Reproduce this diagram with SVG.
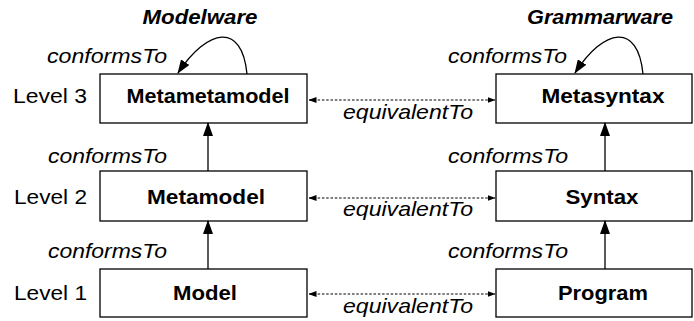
<svg xmlns="http://www.w3.org/2000/svg" width="694" height="321" viewBox="0 0 694 321">
  <style>
    text { font-family: "Liberation Sans", Arial, sans-serif; font-size: 21px; fill: #000; }
    .node { font-weight: bold; text-anchor: middle; }
    .head { font-weight: bold; font-style: italic; text-anchor: middle; }
    .rel { font-style: italic; }
    .box { fill: #fff; stroke: #000; stroke-width: 1.3; }
    .solid { fill: none; stroke: #000; stroke-width: 1.3; }
    .dash { fill: none; stroke: #000; stroke-width: 1; stroke-dasharray: 2.5 1.8; }
  </style>
  <defs>
    <marker id="tri" viewBox="0 0 14 10" refX="13" refY="5" markerWidth="14" markerHeight="10" markerUnits="userSpaceOnUse" orient="auto">
      <path d="M0,0 L14,5 L0,10 z" fill="#000"/>
    </marker>
    <marker id="small" viewBox="0 0 8 6" refX="7.5" refY="3" markerWidth="8" markerHeight="6" markerUnits="userSpaceOnUse" orient="auto-start-reverse">
      <path d="M0,0 L8,3 L0,6 z" fill="#000"/>
    </marker>
  </defs>

  <!-- column headings -->
  <text class="head" x="200" y="24" textLength="115" lengthAdjust="spacingAndGlyphs">Modelware</text>
  <text class="head" x="600" y="24" textLength="146" lengthAdjust="spacingAndGlyphs">Grammarware</text>

  <!-- level labels -->
  <text x="13" y="103" textLength="74" lengthAdjust="spacingAndGlyphs">Level 3</text>
  <text x="14" y="204" textLength="73" lengthAdjust="spacingAndGlyphs">Level 2</text>
  <text x="14" y="300" textLength="73" lengthAdjust="spacingAndGlyphs">Level 1</text>

  <!-- modelware column -->
  <g id="metametamodel">
    <rect class="box" x="100" y="74" width="207" height="49"/>
    <text class="node" x="208" y="103" textLength="163" lengthAdjust="spacingAndGlyphs">Metametamodel</text>
  </g>
  <g id="metamodel">
    <rect class="box" x="100" y="171" width="207" height="50"/>
    <text class="node" x="206" y="204" textLength="118" lengthAdjust="spacingAndGlyphs">Metamodel</text>
  </g>
  <g id="model">
    <rect class="box" x="100" y="269" width="207" height="48"/>
    <text class="node" x="205" y="300" textLength="64" lengthAdjust="spacingAndGlyphs">Model</text>
  </g>

  <!-- grammarware column -->
  <g id="metasyntax">
    <rect class="box" x="496" y="74" width="196" height="49"/>
    <text class="node" x="603" y="103" textLength="123" lengthAdjust="spacingAndGlyphs">Metasyntax</text>
  </g>
  <g id="syntax">
    <rect class="box" x="496" y="171" width="196" height="50"/>
    <text class="node" x="602" y="204" textLength="73" lengthAdjust="spacingAndGlyphs">Syntax</text>
  </g>
  <g id="program">
    <rect class="box" x="496" y="269" width="196" height="48"/>
    <text class="node" x="603" y="300" textLength="90" lengthAdjust="spacingAndGlyphs">Program</text>
  </g>

  <!-- connectors -->
  <g id="connectors">
    <!-- self conformance loops -->
    <path class="solid" d="M247,74 C242,22 208,28 178,73" marker-end="url(#tri)"/>
    <path class="solid" d="M643,74 C638,22 604,28 575,73" marker-end="url(#tri)"/>
    <!-- conformsTo, upward -->
    <path class="solid" d="M208,171 L208,123" marker-end="url(#tri)"/>
    <path class="solid" d="M208,269 L208,221" marker-end="url(#tri)"/>
    <path class="solid" d="M605,171 L605,123" marker-end="url(#tri)"/>
    <path class="solid" d="M605,269 L605,221" marker-end="url(#tri)"/>
    <!-- equivalentTo, both ways -->
    <path class="dash" d="M309,100 L495,100" marker-start="url(#small)" marker-end="url(#small)"/>
    <path class="dash" d="M309,198 L495,198" marker-start="url(#small)" marker-end="url(#small)"/>
    <path class="dash" d="M309,294 L495,294" marker-start="url(#small)" marker-end="url(#small)"/>

    <!-- connector labels -->
    <text class="rel" x="47" y="63" textLength="120" lengthAdjust="spacingAndGlyphs">conformsTo</text>
    <text class="rel" x="448" y="63" textLength="119" lengthAdjust="spacingAndGlyphs">conformsTo</text>
    <text class="rel" x="48" y="163" textLength="119" lengthAdjust="spacingAndGlyphs">conformsTo</text>
    <text class="rel" x="448" y="163" textLength="120" lengthAdjust="spacingAndGlyphs">conformsTo</text>
    <text class="rel" x="48" y="258" textLength="119" lengthAdjust="spacingAndGlyphs">conformsTo</text>
    <text class="rel" x="448" y="258" textLength="120" lengthAdjust="spacingAndGlyphs">conformsTo</text>
    <text class="rel" x="343" y="119" textLength="130" lengthAdjust="spacingAndGlyphs">equivalentTo</text>
    <text class="rel" x="343" y="216" textLength="130" lengthAdjust="spacingAndGlyphs">equivalentTo</text>
    <text class="rel" x="343" y="313" textLength="130" lengthAdjust="spacingAndGlyphs">equivalentTo</text>
  </g>
</svg>
